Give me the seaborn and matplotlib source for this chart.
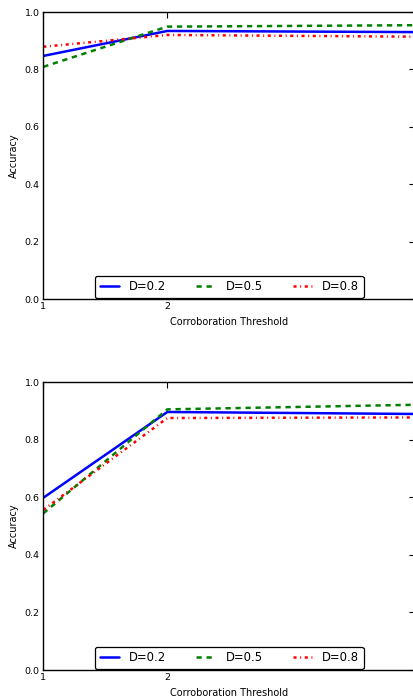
"""Accuracy vs corroboration threshold for three D settings (two panels)."""

import matplotlib
matplotlib.use("Agg")
import matplotlib.pyplot as plt
import pandas as pd
import seaborn as sns


THRESHOLDS = [1, 2, 4]
LABELS = ["D=0.2", "D=0.5", "D=0.8"]
COLORS = ["#0000ff", "#008000", "#ff0000"]

# top panel
TOP_D02 = [0.847, 0.934, 0.930]
TOP_D05 = [0.809, 0.949, 0.954]
TOP_D08 = [0.879, 0.920, 0.914]

# bottom panel
BOT_D02 = [0.598, 0.896, 0.889]
BOT_D05 = [0.544, 0.905, 0.921]
BOT_D08 = [0.556, 0.875, 0.877]

Y_TICKS = [0.0, 0.2, 0.4, 0.6, 0.8, 1.0]


def build_frame(series):
    rows = []
    for label, values in zip(LABELS, series):
        for x, y in zip(THRESHOLDS, values):
            rows.append({"threshold": x, "accuracy": y, "D": label})
    return pd.DataFrame(rows)


def draw_panel(ax, frame):
    sns.lineplot(
        data=frame,
        x="threshold",
        y="accuracy",
        hue="D",
        style="D",
        palette=COLORS,
        dashes=["", (3.8, 3.4), (2.2, 2.6, 0.7, 2.6)],
        linewidth=1.8,
        ax=ax,
    )
    ax.set_xlim(1, 4)
    ax.set_ylim(0, 1)
    ax.set_xticks(THRESHOLDS)
    ax.set_yticks(Y_TICKS)
    ax.set_yticklabels([f"{t:.1f}" for t in Y_TICKS])
    ax.set_xlabel("Corroboration Threshold", fontsize=7, color="black")
    ax.set_ylabel("Accuracy", fontsize=7, color="black")
    ax.tick_params(direction="in", length=4, width=0.8, labelsize=6.8,
                   top=True, right=True, pad=2.5, colors="black")
    for spine in ax.spines.values():
        spine.set_color("black")
        spine.set_linewidth(1.0)
    sns.move_legend(
        ax,
        "lower center",
        ncol=3,
        title=None,
        frameon=True,
        fancybox=True,
        fontsize=8.4,
        borderaxespad=0.1,
        handlelength=1.7,
        columnspacing=2.6,
        edgecolor="black",
        framealpha=1.0,
    )
    legend = ax.get_legend()
    legend.get_frame().set_linewidth(0.9)
    for text in legend.get_texts():
        text.set_color("black")


sns.set_style("white")
plt.rcParams["font.family"] = ["DejaVu Sans"]
plt.rcParams["lines.scale_dashes"] = False
plt.rcParams["text.color"] = "black"

fig = plt.figure(figsize=(4.14, 6.98), dpi=100)
ax_top = fig.add_axes([0.1046, 0.5716, 0.8986, 0.4112])
ax_bot = fig.add_axes([0.1046, 0.0401, 0.8986, 0.4126])

draw_panel(ax_top, build_frame([TOP_D02, TOP_D05, TOP_D08]))
draw_panel(ax_bot, build_frame([BOT_D02, BOT_D05, BOT_D08]))

fig.savefig("out.png", dpi=100)
